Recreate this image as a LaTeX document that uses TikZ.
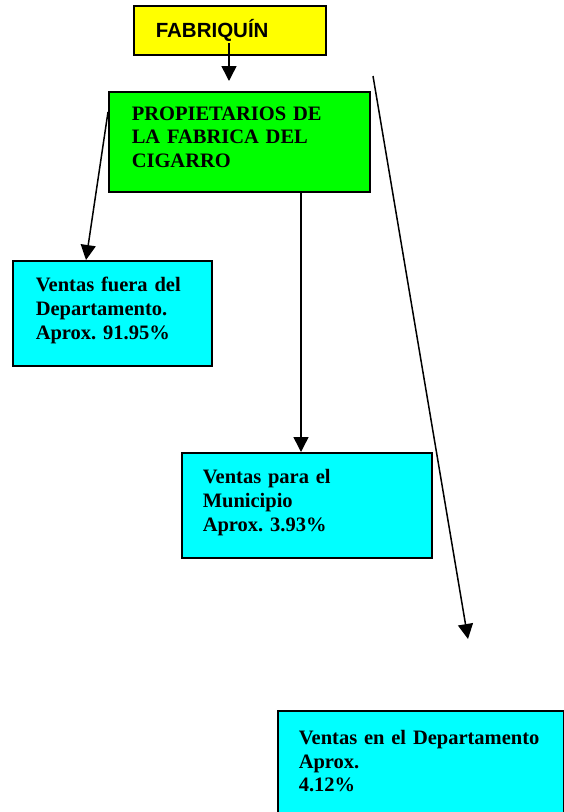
\documentclass[tikz,border=0pt]{standalone}
\usepackage{fontspec}
\setmainfont{Liberation Serif}
\newfontfamily\arialf{Liberation Sans}
\usetikzlibrary{arrows.meta}
\definecolor{boxcyan}{RGB}{0,255,255}
\definecolor{boxgreen}{RGB}{0,255,0}
\definecolor{boxyellow}{RGB}{255,255,0}
\frenchspacing
\begin{document}
\begin{tikzpicture}[x=1pt,y=-1pt,
  box/.style={draw=black, line width=1.5pt, rectangle, anchor=north west, align=left,
    font=\bfseries\fontsize{20.5}{23.8}\selectfont\frenchspacing, inner ysep=0pt},
  serifbox/.style={box, text depth=57pt},
  arr/.style={line width=1.5pt, -{Triangle[length=15pt,width=15pt]}}]
\useasboundingbox (0,0) rectangle (564,812);
\clip (0,0) rectangle (564,812);
\node[box, fill=boxyellow, font=\arialf\bfseries\fontsize{20.5}{24}\selectfont,
  minimum width=192pt, minimum height=49pt, text width=148pt, inner xsep=22pt] (fab) at (133,5) {FABRIQUÍN};
\node[serifbox, fill=boxgreen, minimum width=261pt, minimum height=100pt,
  text width=215pt, inner xsep=23pt] (prop) at (108,91) {PROPIETARIOS DE\\LA FABRICA DEL\\CIGARRO};
\node[serifbox, fill=boxcyan, minimum width=199pt, minimum height=105pt,
  text width=153pt, inner xsep=23pt] (fuera) at (12,260) {Ventas fuera del\\Departamento.\\Aprox. 91.95\%};
\node[serifbox, fill=boxcyan, minimum width=250pt, minimum height=105pt,
  text width=208pt, inner xsep=21pt] (mun) at (181,452) {Ventas para el\\Municipio\\Aprox. 3.93\%};
\node[serifbox, fill=boxcyan, minimum width=286pt, minimum height=110pt,
  text width=244pt, inner xsep=21pt] (dep) at (277,710) {Ventas en el Departamento\\Aprox.\\4.12\%};
\coordinate (a1) at (229,43);
\coordinate (a2) at (229,81);
\coordinate (l1) at (109,112);
\coordinate (l2) at (86,0);
\coordinate (m) at (301,0);
\coordinate (r1) at (373,76);
\coordinate (r2) at (468,639);
\draw[arr] (a1) -- (a2);
\draw[arr] (prop.west |- l1) -- (fuera.north -| l2);
\draw[arr] (prop.south -| m) -- (mun.north -| m);
\draw[arr] (r1) -- (r2);
\end{tikzpicture}
\end{document}
